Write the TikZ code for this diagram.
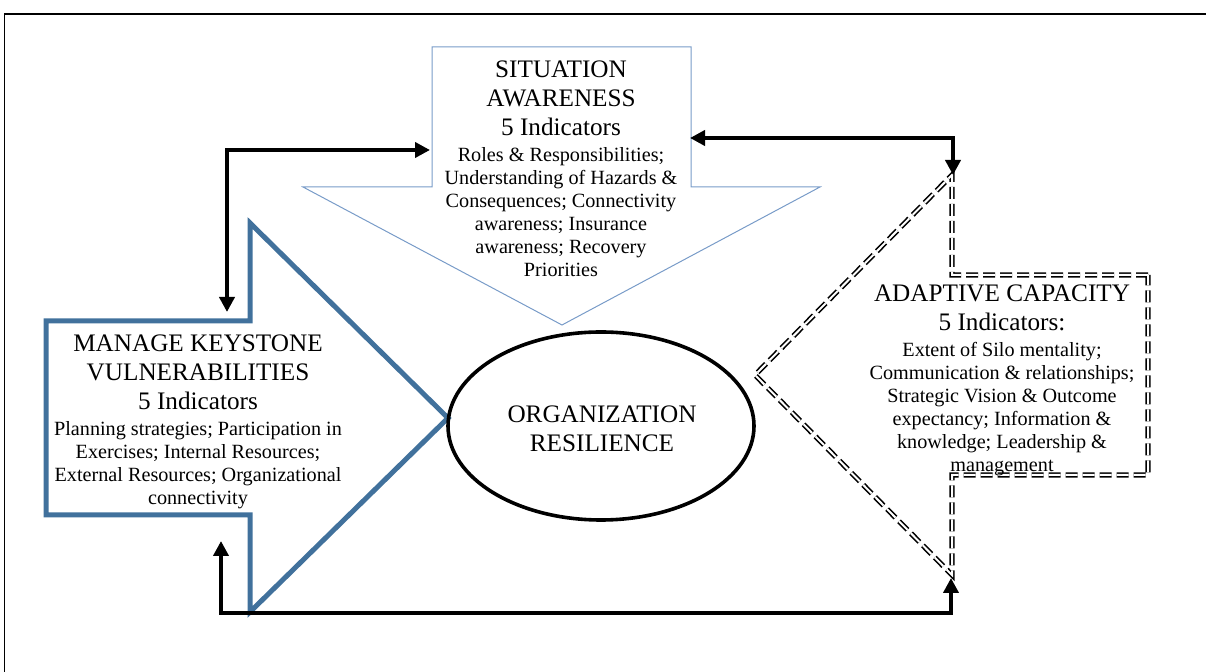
\documentclass[tikz,border=0pt]{standalone}
\usepackage{fontspec}
\setmainfont{Liberation Serif}
\usetikzlibrary{arrows.meta,shapes.geometric}

\definecolor{paleblue}{RGB}{120,155,200}
\definecolor{steelblue}{RGB}{65,113,156}

\tikzset{
  headtext/.style={align=center, inner sep=0pt, anchor=north, font=\fontsize{12.6}{14.7}\selectfont},
  listtext/.style={align=center, inner sep=0pt, anchor=north, font=\fontsize{10.1}{11.5}\selectfont},
  link/.style={<->, >={Triangle[length=7.5pt,width=7.5pt]}, line width=2pt, color=black},
  dbldash/.style={draw=black, line width=0.8pt, double=white, double distance=1pt, dash pattern=on 6pt off 2.5pt}
}

\begin{document}
\begin{tikzpicture}[x=0.5pt,y=-0.5pt]
\useasboundingbox (0,0) rectangle (1206,672);

\draw[line width=0.5pt] (4,672) -- (4,14);
\draw[line width=1pt] (4,14) -- (1206,14);

% block arrows
\draw[color=paleblue, line width=0.5pt] (432,47) -- (691,47) -- (691,187) -- (820,187) -- (562,325) -- (303,187) -- (432,187) -- cycle;
\draw[color=steelblue, line width=2.5pt, line join=miter] (46,321) -- (250,321) -- (250,223) -- (448,418) -- (250,612) -- (250,515) -- (46,515) -- cycle;
\draw[dbldash] (1148,275) -- (952,275) -- (952,175) -- (755,375) -- (952,575) -- (952,475) -- (1148,475) -- cycle;

\node[draw, ellipse, line width=1.8pt, minimum width=153pt, minimum height=94pt, inner sep=0pt] (core) at (601,426) {};

\node[headtext] (sa-head) at (561,60) {SITUATION\\AWARENESS\\5 Indicators};
\node[listtext] (sa-list) at (561,147) {Roles \& Responsibilities;\\Understanding of Hazards \&\\Consequences; Connectivity\\awareness; Insurance\\awareness; Recovery\\Priorities};

\node[headtext] (mkv-head) at (198,334) {MANAGE KEYSTONE\\VULNERABILITIES\\5 Indicators};
\node[listtext] (mkv-list) at (198,421) {Planning strategies; Participation in\\Exercises; Internal Resources;\\External Resources; Organizational\\connectivity};

\node[headtext] (ac-head) at (1002,284) {ADAPTIVE CAPACITY\\5 Indicators:};
\node[listtext] (ac-list) at (1002,342) {Extent of Silo mentality;\\Communication \& relationships;\\Strategic Vision \& Outcome\\expectancy; Information \&\\knowledge; Leadership \&\\management};

\node[headtext] (core-text) at (602,405) {ORGANIZATION\\RESILIENCE};

% feedback loops
\coordinate (sa-w) at (430,150);
\coordinate (mkv-n) at (227,312);
\coordinate (sa-e) at (690,138);
\coordinate (ac-n) at (953,175);
\coordinate (mkv-s) at (221,541);
\coordinate (ac-s) at (951,578);

\draw[link] (sa-w) -| (mkv-n);
\draw[link] (sa-e) -| (ac-n);
\draw[link] (mkv-s) -- ++(0,72) -| (ac-s);

\end{tikzpicture}
\end{document}
